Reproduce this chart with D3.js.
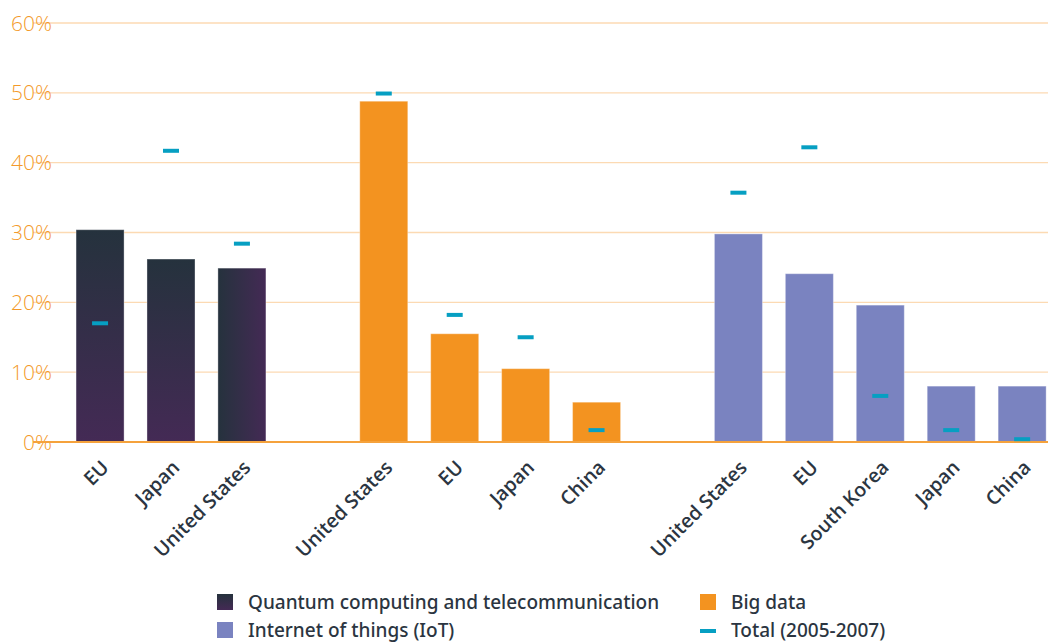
<!DOCTYPE html>
<html>
<head>
<meta charset="utf-8">
<script src="https://cdn.jsdelivr.net/npm/d3@7"></script>
<style>
  html, body { margin: 0; padding: 0; background: #fff; }
  svg { display: block; }
</style>
</head>
<body>
<svg id="chart" width="1048" height="644"></svg>
<script>
// Technology groups, each with its countries (share of patents, %)
const groups = ["Quantum computing and telecommunication", "Big data", "Internet of things (IoT)"];

const quantumCountries = ["EU", "Japan", "United States"];
const quantumValues    = [30.4, 26.2, 24.9];
const quantumTotals    = [17.0, 41.7, 28.4];

const bigDataCountries = ["United States", "EU", "Japan", "China"];
const bigDataValues    = [48.8, 15.5, 10.5, 5.7];
const bigDataTotals    = [49.9, 18.2, 15.0, 1.7];

const iotCountries = ["United States", "EU", "South Korea", "Japan", "China"];
const iotValues    = [29.8, 24.1, 19.6, 8.0, 8.0];
const iotTotals    = [35.7, 42.2, 6.6, 1.7, 0.4];

const yTicks = [0, 10, 20, 30, 40, 50, 60];
const totalLabel = "Total (2005-2007)";

const svg = d3.select("#chart");
const W = 1048, H = 644;

// Build rows, with an empty spacer slot between groups
const rows = [];
const addGroup = (g, countries, vals, tots) => {
  countries.forEach((c, i) => rows.push({ key: g + "|" + c, group: g, country: c, value: vals[i], total: tots[i] }));
};
addGroup(0, quantumCountries, quantumValues, quantumTotals);
rows.push({ key: "gap1", spacer: true });
addGroup(1, bigDataCountries, bigDataValues, bigDataTotals);
rows.push({ key: "gap2", spacer: true });
addGroup(2, iotCountries, iotValues, iotTotals);
const bars = rows.filter(r => !r.spacer);

const x = d3.scaleBand().domain(rows.map(r => r.key)).range([64.6, 1057.6]).paddingInner(0.323).paddingOuter(0.1615);
const y = d3.scaleLinear().domain([0, 60]).range([442, 23]);

// Gradients for the quantum series
const defs = svg.append("defs");
const gv = defs.append("linearGradient").attr("id", "qVert").attr("x1", 0).attr("y1", 0).attr("x2", 0).attr("y2", 1);
gv.append("stop").attr("offset", "0%").attr("stop-color", "#25323d");
gv.append("stop").attr("offset", "100%").attr("stop-color", "#442a55");
const gh = defs.append("linearGradient").attr("id", "qHoriz").attr("x1", 0).attr("y1", 0).attr("x2", 1).attr("y2", 0);
gh.append("stop").attr("offset", "0%").attr("stop-color", "#25323d");
gh.append("stop").attr("offset", "100%").attr("stop-color", "#442a55");

const colors = ["url(#qVert)", "#f39320", "#7a83c0"];
const totalColor = "#069fc2";

// Gridlines and y-axis labels
const grid = svg.append("g");
grid.selectAll("line").data(yTicks.filter(t => t > 0)).join("line")
  .attr("x1", 33).attr("x2", W)
  .attr("y1", d => y(d)).attr("y2", d => y(d))
  .attr("stroke", "#fcdab3").attr("stroke-width", 1.3);

svg.append("g").selectAll("text").data(yTicks).join("text")
  .attr("x", 52).attr("y", d => y(d) + 7.5)
  .attr("text-anchor", "end")
  .attr("font-family", "'Open Sans', sans-serif")
  .attr("font-size", 21).attr("font-weight", 300)
  .attr("fill", "#f39a2a")
  .text(d => d + "%");

// Bars
svg.append("g").selectAll("rect").data(bars).join("rect")
  .attr("x", d => x(d.key))
  .attr("width", x.bandwidth())
  .attr("y", d => y(d.value))
  .attr("height", d => y(0) - y(d.value))
  .attr("fill", d => d.group === 0 && d.country === "United States" ? "url(#qHoriz)" : colors[d.group])
  .attr("stroke", "#ffffff").attr("stroke-opacity", 0.35).attr("stroke-width", 1);

// Baseline
svg.append("line")
  .attr("x1", 33).attr("x2", W).attr("y1", y(0)).attr("y2", y(0))
  .attr("stroke", "#f5a23c").attr("stroke-width", 2);

// Total markers
svg.append("g").selectAll("rect").data(bars).join("rect")
  .attr("x", d => x(d.key) + x.bandwidth() / 2 - 8)
  .attr("width", 16)
  .attr("y", d => y(d.total) - 2)
  .attr("height", 4)
  .attr("fill", totalColor);

// Country labels
svg.append("g").selectAll("text").data(bars).join("text")
  .attr("transform", d => `translate(${x(d.key) + x.bandwidth() / 2 + 5},${464}) rotate(-45)`)
  .attr("text-anchor", "end")
  .attr("dy", "0.35em")
  .attr("font-family", "'Open Sans', sans-serif")
  .attr("font-size", 19.5).attr("font-weight", 600)
  .attr("fill", "#2b3541")
  .text(d => d.country);

// Legend
const legend = [
  { label: groups[0], fill: "url(#qVert)", x: 217, y: 594, kind: "box" },
  { label: groups[1], fill: colors[1], x: 700, y: 594, kind: "box" },
  { label: groups[2], fill: colors[2], x: 217, y: 622, kind: "box" },
  { label: totalLabel, fill: totalColor, x: 700, y: 622, kind: "dash" }
];
const lg = svg.append("g").selectAll("g").data(legend).join("g")
  .attr("transform", d => `translate(${d.x},${d.y})`);
lg.append("rect")
  .attr("x", 0)
  .attr("y", d => d.kind === "box" ? 0 : 7)
  .attr("width", 16)
  .attr("height", d => d.kind === "box" ? 16 : 4)
  .attr("fill", d => d.fill);
lg.append("text")
  .attr("x", 31).attr("y", 15)
  .attr("font-family", "'Noto Sans', sans-serif")
  .attr("font-size", 19).attr("font-weight", 500)
  .attr("fill", "#2b3541")
  .text(d => d.label);
</script>
</body>
</html>
